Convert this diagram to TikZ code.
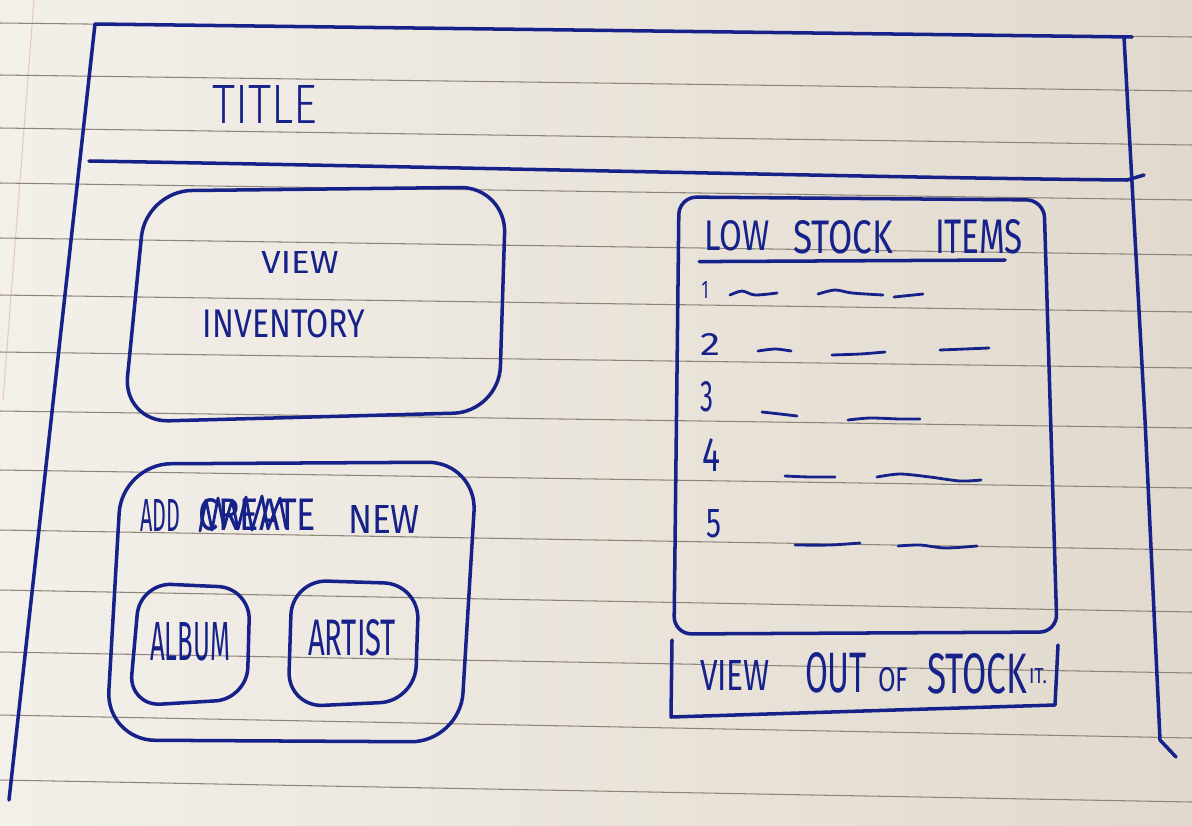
\documentclass[tikz,border=0pt]{standalone}
\usepackage{fontspec}
\setmainfont{Fira Sans}
\newfontfamily\thinhand{Fira Sans Light}
\usepackage{graphicx}
% one unit = one pixel of the sketch
\newlength\upx
\setlength\upx{0.02cm}
% handwritten word boxed to a given width and cap height
\newcommand\hand[3]{\resizebox{#1\upx}{#2\upx}{#3}}
\definecolor{ink}{HTML}{17218A}
\definecolor{rulegray}{HTML}{8E8479}
\definecolor{margin}{HTML}{E9C8BC}
\definecolor{paperL}{HTML}{F3F0EA}
\definecolor{paperM}{HTML}{EAE4DA}
\definecolor{paperR}{HTML}{E1D9CD}
\begin{document}
\begin{tikzpicture}[x=0.02cm,y=-0.02cm,
  pen/.style={draw=ink,line width=2pt,line cap=round,line join=round},
  fine pen/.style={draw=ink,line width=1.6pt,line cap=round,line join=round},
  scrawl/.style={text=ink,inner sep=0pt,anchor=center},
  ruling/.style={draw=rulegray,line width=0.6pt},
]
\useasboundingbox (0,0) rectangle (1192,825);

% notebook paper
\shade[left color=paperL, middle color=paperM, right color=paperR] (0,0) rectangle (1192,825);
\draw[margin,line width=0.6pt] (34,0) -- (3,400);
\foreach \l/\r in {23/37,75/91,128/145,183/200,238/255,295/312,352/368,
                   411/428,470/488,530/550,590/612,652/673,715/738,780/802}
  \draw[ruling] (0,\l) -- (1192,\r);

% page frame and header divider
\coordinate (tl) at (95,24);
\coordinate (tr) at (1124,37);
\coordinate (bl) at (9,800);
\coordinate (br) at (1160,740);
\draw[pen] (bl) -- (tl) -- (1132,37);
\draw[pen] (tr) -- (1145,420) -- (br) -- (1176,757);
\coordinate (hl) at (89,161);
\coordinate (hr) at (1127,180);
\draw[pen] (hl) .. controls (500,168) and (900,178) .. (hr) -- (1144,175);

\node[scrawl,font=\thinhand] (title) at (265,104) {\hand{105}{38}{TITLE}};

% view inventory button
\draw[pen,rounded corners=26] (146,191) -- (506,187) -- (499,412) -- (123,422) -- cycle;
\node[scrawl] (view) at (300,262) {\hand{77}{22}{VIEW}};
\node[scrawl] (inventory) at (284,324) {\hand{162}{28}{INVENTORY}};

% add new panel
\draw[pen,rounded corners=28] (122,464) -- (477,462) -- (460,742) -- (106,740) -- cycle;
\node[scrawl] (add) at (160,515) {\hand{40}{32}{ADD}};
\node[scrawl] (create) at (257,515) {\hand{118}{32}{CREATE}};
\draw[fine pen] (200,531) -- (206,500) -- (212,530) -- (218,498) -- (224,528)
  -- (232,500) -- (238,529) -- (246,497) -- (252,530) -- (262,496) -- (268,529)
  -- (280,498) -- (286,528);
\node[scrawl] (new) at (384,519) {\hand{72}{28}{NEW}};

\draw[pen,rounded corners=18] (140,583) -- (250,588) -- (247,699) -- (129,706) -- cycle;
\node[scrawl] (album) at (190,642) {\hand{80}{38}{ALBUM}};
\draw[pen,rounded corners=20] (292,580) -- (419,584) -- (415,701) -- (288,707) -- cycle;
\node[scrawl] (artist) at (352,638) {\hand{88}{36}{ARTIST}};

% low stock list
\draw[pen,rounded corners=10] (674,634) -- (679,197) -- (1044,200) -- (1057,632) -- cycle;
\node[scrawl] (low) at (737,236) {\hand{65}{30}{LOW}};
\node[scrawl] (stock) at (843,237) {\hand{100}{33}{STOCK}};
\node[scrawl] (items) at (979,237) {\hand{88}{34}{ITEMS}};
\draw[pen] (low.south west) ++(-5,10) coordinate (ul) -- (1005,260);

\node[scrawl] (n1) at (705,290) {\hand{7}{17}{1}};
\node[scrawl] (n2) at (710,344) {\hand{20}{22}{2}};
\node[scrawl] (n3) at (707,397) {\hand{13}{30}{3}};
\node[scrawl] (n4) at (711,455) {\hand{18}{33}{4}};
\node[scrawl] (n5) at (714,524) {\hand{15}{28}{5}};

\draw[fine pen] plot[smooth] coordinates {(730,295) (742,291) (755,295) (777,293)};
\draw[fine pen] plot[smooth] coordinates {(818,294) (835,290) (852,293) (883,295)};
\draw[fine pen] plot[smooth] coordinates {(894,297) (923,294)};
\draw[fine pen] plot[smooth] coordinates {(758,351) (775,349) (791,351)};
\draw[fine pen] plot[smooth] coordinates {(832,355) (860,354) (885,352)};
\draw[fine pen] plot[smooth] coordinates {(940,350) (965,349) (989,348)};
\draw[fine pen] plot[smooth] coordinates {(762,412) (780,414) (797,416)};
\draw[fine pen] plot[smooth] coordinates {(848,420) (870,418) (900,419) (920,419)};
\draw[fine pen] plot[smooth] coordinates {(785,476) (810,477) (835,477)};
\draw[fine pen] plot[smooth] coordinates {(877,477) (900,474) (930,477) (960,481) (981,480)};
\draw[fine pen] plot[smooth] coordinates {(795,545) (830,545) (860,543)};
\draw[fine pen] plot[smooth] coordinates {(898,546) (920,545) (945,548) (977,546)};

% view out of stock button
\draw[pen] (672,640) -- (671,717) -- (1055,705) -- (1058,645);
\node[scrawl] (vw) at (735,675) {\hand{70}{30}{VIEW}};
\node[scrawl] (out) at (836,673) {\hand{62}{40}{OUT}};
\node[scrawl] (of) at (893,680) {\hand{30}{24}{OF}};
\node[scrawl] (stk) at (977,674) {\hand{100}{40}{STOCK}};
\node[scrawl] (it) at (1038,676) {\hand{18}{15}{IT.}};
\end{tikzpicture}
\end{document}
